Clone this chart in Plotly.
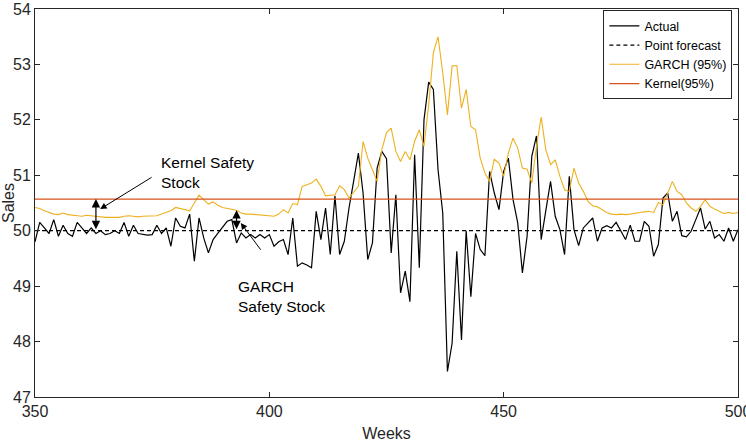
import plotly.graph_objects as go

weeks = list(range(350, 501))

actual = [
    49.80, 50.15, 50.05, 49.95, 50.20, 49.90, 50.10, 49.95, 49.90, 50.15,  # 350-359
    50.05, 49.95, 50.05, 49.95, 50.00, 49.93, 49.95, 50.00, 49.95, 50.15,  # 360-369
    49.90, 50.10, 49.95, 49.93, 49.92, 49.93, 50.10, 49.95, 50.05, 49.72,  # 370-379
    50.23, 50.08, 50.05, 50.30, 49.45, 50.23, 49.87, 49.60, 49.84, 49.95,  # 380-389
    50.05, 50.17, 50.20, 49.78, 49.96, 49.87, 49.93, 49.87, 49.93, 49.87,  # 390-399
    49.93, 49.72, 49.80, 49.84, 49.57, 50.23, 49.36, 49.42, 49.38, 49.33,  # 400-409
    50.35, 49.84, 50.41, 49.57, 50.63, 49.57, 49.81, 50.41, 50.90, 51.40,  # 410-419
    50.68, 49.48, 49.78, 51.13, 51.43, 51.30, 49.60, 50.65, 48.88, 49.27,  # 420-429
    48.72, 51.37, 49.33, 52.00, 52.68, 52.55, 51.10, 50.32, 47.46, 47.97,  # 430-439
    49.63, 48.03, 50.00, 48.81, 49.95, 49.66, 49.55, 51.07, 50.68, 50.38,  # 440-449
    51.07, 51.31, 50.56, 50.14, 49.24, 49.90, 51.34, 51.71, 49.84, 50.38,  # 450-459
    50.89, 50.26, 50.02, 49.57, 50.98, 50.02, 49.73, 50.05, 50.14, 50.23,  # 460-469
    49.81, 50.05, 50.09, 50.05, 50.15, 50.00, 49.84, 50.10, 49.81, 49.81,  # 470-479
    50.17, 50.08, 49.54, 49.75, 50.59, 50.68, 50.17, 50.35, 49.91, 49.89,  # 480-489
    49.99, 50.20, 50.41, 50.03, 50.17, 49.87, 49.93, 49.81, 50.05, 49.81,  # 490-499
    50.02,                                                                 # 500
]

garch = [
    50.42, 50.40, 50.36, 50.33, 50.30, 50.29, 50.32, 50.29, 50.28, 50.27,  # 350-359
    50.26, 50.28, 50.27, 50.25, 50.25, 50.24, 50.24, 50.24, 50.24, 50.26,  # 360-369
    50.27, 50.26, 50.25, 50.26, 50.26, 50.26, 50.27, 50.30, 50.33, 50.36,  # 370-379
    50.42, 50.40, 50.38, 50.36, 50.50, 50.64, 50.56, 50.48, 50.52, 50.46,  # 380-389
    50.42, 50.40, 50.38, 50.37, 50.32, 50.30, 50.30, 50.29, 50.28, 50.27,  # 390-399
    50.26, 50.26, 50.30, 50.38, 50.32, 50.49, 50.47, 50.80, 50.83, 50.86,  # 400-409
    50.93, 50.80, 50.63, 50.64, 50.65, 50.81, 50.74, 50.59, 50.70, 50.80,  # 410-419
    51.61, 51.31, 51.10, 50.89, 51.46, 51.77, 51.85, 51.43, 51.25, 51.43,  # 420-429
    51.28, 51.61, 51.82, 51.52, 52.27, 53.21, 53.50, 52.85, 52.09, 52.97,  # 430-439
    52.98, 52.21, 52.55, 51.88, 51.82, 51.31, 51.04, 50.89, 51.29, 51.22,  # 440-449
    50.98, 51.40, 51.67, 51.49, 51.13, 51.11, 50.86, 51.52, 52.05, 51.46,  # 450-459
    51.19, 51.28, 50.98, 50.74, 50.71, 51.13, 50.86, 50.71, 50.53, 50.45,  # 460-469
    50.43, 50.38, 50.33, 50.30, 50.29, 50.30, 50.29, 50.30, 50.32, 50.33,  # 470-479
    50.34, 50.35, 50.33, 50.51, 50.47, 50.68, 50.89, 50.71, 50.65, 50.50,  # 480-489
    50.41, 50.35, 50.44, 50.56, 50.44, 50.39, 50.35, 50.31, 50.33, 50.31,  # 490-499
    50.33,                                                                 # 500
]

point_forecast_level = 50.0
kernel_level = 50.57

x_ticks = [350, 400, 450, 500]
y_ticks = [47, 48, 49, 50, 51, 52, 53, 54]

kernel_arrow_week = 363
garch_arrow_week = 393

FONT = "Liberation Sans, Arial, sans-serif"
GARCH_COLOR = "#EDB120"
KERNEL_COLOR = "#D95319"

fig = go.Figure()
fig.add_trace(go.Scatter(x=weeks, y=actual, mode="lines", name="Actual",
                         line=dict(color="black", width=1.2)))
fig.add_trace(go.Scatter(x=weeks, y=[point_forecast_level] * len(weeks), mode="lines",
                         name="Point forecast",
                         line=dict(color="black", width=1.2, dash="4px,3px")))
fig.add_trace(go.Scatter(x=weeks, y=garch, mode="lines", name="GARCH (95%)",
                         line=dict(color=GARCH_COLOR, width=1.1)))
fig.add_trace(go.Scatter(x=weeks, y=[kernel_level] * len(weeks), mode="lines",
                         name="Kernel(95%)",
                         line=dict(color=KERNEL_COLOR, width=1.3)))

g_idx = weeks.index(garch_arrow_week)
annotations = [
    # Kernel safety stock double arrow
    dict(x=kernel_arrow_week, y=kernel_level, ax=kernel_arrow_week, ay=point_forecast_level,
         xref="x", yref="y", axref="x", ayref="y", text="", showarrow=True,
         arrowhead=2, startarrowhead=2, arrowside="end+start", arrowsize=1.4,
         startarrowsize=1.4, arrowwidth=1.2, arrowcolor="black"),
    # GARCH safety stock double arrow
    dict(x=garch_arrow_week, y=garch[g_idx], ax=garch_arrow_week, ay=point_forecast_level,
         xref="x", yref="y", axref="x", ayref="y", text="", showarrow=True,
         arrowhead=2, startarrowhead=2, arrowside="end+start", arrowsize=1.4,
         startarrowsize=1.4, arrowwidth=1.2, arrowcolor="black"),
    # Kernel pointer
    dict(x=363.9, y=50.39, ax=375.2, ay=50.98,
         xref="x", yref="y", axref="x", ayref="y", text="", showarrow=True,
         arrowhead=2, arrowsize=1.3, arrowwidth=1, arrowcolor="black"),
    # GARCH pointer
    dict(x=393.9, y=50.14, ax=398.4, ay=49.63,
         xref="x", yref="y", axref="x", ayref="y", text="", showarrow=True,
         arrowhead=2, arrowsize=1.3, arrowwidth=1, arrowcolor="black"),
    dict(x=376.4, y=51.05, xref="x", yref="y", text="Kernel Safety<br>Stock",
         showarrow=False, xanchor="left", yanchor="middle", align="left",
         font=dict(family=FONT, size=15.5, color="black")),
    dict(x=392.9, y=48.81, xref="x", yref="y", text="GARCH<br>Safety Stock",
         showarrow=False, xanchor="left", yanchor="middle", align="left",
         font=dict(family=FONT, size=15.5, color="black")),
]

axis_common = dict(showline=True, linecolor="#262626", linewidth=1, mirror="ticks",
                   ticks="inside", ticklen=5, tickcolor="#262626", showgrid=False,
                   zeroline=False, automargin=False, ticklabeloverflow="allow",
                   tickfont=dict(family=FONT, size=16, color="#262626"))

fig.update_layout(
    width=746, height=444,
    margin=dict(l=35, r=8, t=9, b=47),
    paper_bgcolor="white", plot_bgcolor="white",
    font=dict(family=FONT, size=16, color="#262626"),
    xaxis=dict(range=[350, 500], tickvals=x_ticks,
               title=dict(text="Weeks", standoff=8, font=dict(family=FONT, size=16)),
               **axis_common),
    yaxis=dict(range=[47, 54], tickvals=y_ticks,
               title=dict(text="Sales", standoff=2, font=dict(family=FONT, size=16)),
               **axis_common),
    legend=dict(x=0.992, y=0.997, xanchor="right", yanchor="top",
                bordercolor="#262626", borderwidth=1, bgcolor="white",
                font=dict(family=FONT, size=12.5, color="black"),
                itemwidth=30, tracegroupgap=0),
    annotations=annotations,
    showlegend=True,
)

fig.write_html("out.html")
